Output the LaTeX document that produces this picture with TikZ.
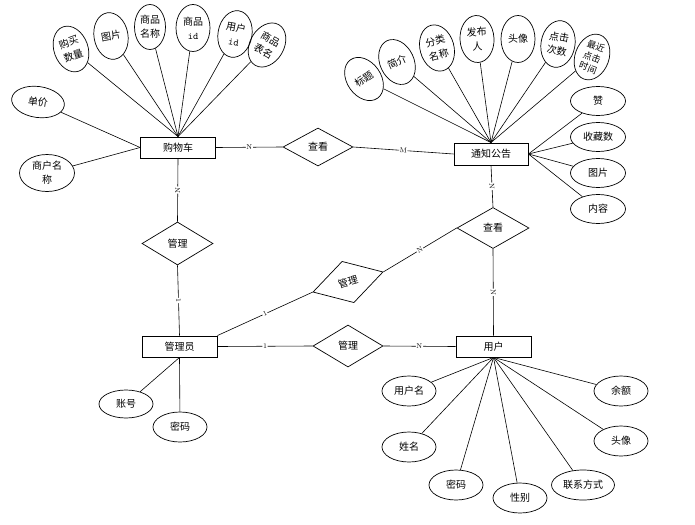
\documentclass[tikz,border=0pt]{standalone}
\usepackage{fontspec}
\newfontfamily\cjk{Noto Sans CJK SC}
\usetikzlibrary{shapes.geometric}
\begin{document}
\begin{tikzpicture}[x=1pt,y=-1pt,
  every node/.style={font=\cjk\fontsize{10}{12}\selectfont},
  ent/.style={draw, line width=0.9pt, minimum width=75pt, minimum height=21pt, inner sep=0pt},
  rel/.style={draw, diamond, line width=0.7pt, inner sep=0pt, aspect=1.7},
  attr/.style={draw, ellipse, line width=0.7pt, inner sep=0pt, minimum width=54pt, minimum height=30pt, align=center},
  tattr/.style={attr, minimum width=34pt, minimum height=47pt, font=\cjk\fontsize{10}{14}\selectfont},
  lab/.style={font=\fontsize{7}{8}\selectfont, fill=white, inner sep=0.6pt, sloped},
  conn/.style={line width=0.6pt}
]
\useasboundingbox (0,0) rectangle (695,524);

% entities
\node[ent] (cart) at (178,147.5) {购物车};
\node[ent, minimum width=74pt, minimum height=22pt] (notice) at (491,154) {通知公告};
\node[ent] (admin) at (179.5,346.5) {管理员};
\node[ent] (user) at (493.5,346.5) {用户};

% relations
\node[rel, minimum width=70pt, minimum height=38pt] (ck1) at (318,147) {查看};
\node[rel, minimum width=71pt, minimum height=43pt] (m1) at (177.5,243.5) {管理};
\node[rel, minimum width=73pt, minimum height=43pt, rotate=16] (m2) at (348,282) {管理};
\node[rel, minimum width=72pt, minimum height=41pt] (ck2) at (493,228) {查看};
\node[rel, minimum width=70pt, minimum height=42pt] (m3) at (348,346) {管理};

% relation connectors
\draw[conn] (cart.east) -- node[lab]{N} (ck1.west);
\draw[conn] (ck1.east) -- node[lab]{M} (notice.west);
\draw[conn] (cart.south) -- node[lab]{N} (m1.north);
\draw[conn] (m1.south) -- node[lab]{1} (admin.north);
\draw[conn] (admin.north east) -- node[lab]{1} (m2.west);
\draw[conn] (m2.east) -- node[lab]{N} (ck2.west);
\draw[conn] (ck2.north) -- node[lab]{N} (notice.south);
\draw[conn] (ck2.south) -- node[lab]{N} (user.north);
\draw[conn] (admin.east) -- node[lab]{1} (m3.west);
\draw[conn] (m3.east) -- node[lab]{N} (user.west);

% cart attributes
\node[tattr, rotate=20] (a1) at (71,49) {购买\\数量};
\node[tattr, rotate=10] (a2) at (111,36) {图片};
\node[tattr, minimum width=31pt, minimum height=45pt] (a3) at (150,27) {商品\\名称};
\node[tattr] (a4) at (193,28) {商品\\{\ttfamily id}};
\node[tattr, rotate=-10] (a5) at (235,34) {用户\\{\ttfamily id}};
\node[tattr, rotate=-30] (a6) at (267,45) {商品\\表名};
\node[attr, rotate=-8, minimum width=53pt, minimum height=31pt] (a7) at (38,102) {单价};
\node[attr, minimum width=55pt, minimum height=37pt, font=\cjk\fontsize{10}{14}\selectfont] (a8) at (47,173) {商户名\\称};
\foreach \n in {a1,a2,a3,a4,a5,a6} \draw[conn] (cart.north) -- (\n);
\draw[conn] (cart.west) -- (a7);
\draw[conn] (cart.west) -- (a8);

% notice attributes
\node[tattr, rotate=35] (b1) at (364,79) {标题};
\node[tattr, rotate=25] (b2) at (397,62) {简介};
\node[tattr, rotate=15] (b3) at (437,48) {分类\\名称};
\node[tattr, rotate=3] (b4) at (477,39) {发布\\人};
\node[tattr] (b5) at (518,39) {头像};
\node[tattr, rotate=-10] (b6) at (558,44) {点击\\次数};
\node[tattr, rotate=-20, font=\cjk\fontsize{9}{11.5}\selectfont] (b7) at (592,57) {最近\\点击\\时间};
\foreach \n in {b1,b2,b3,b4,b5,b6,b7} \draw[conn] (notice.north) -- (\n);
\node[attr, minimum width=55pt, minimum height=29pt] (c1) at (598,101) {赞};
\node[attr, minimum width=55pt, minimum height=29pt] (c2) at (598,137) {收藏数};
\node[attr, minimum width=55pt, minimum height=29pt] (c3) at (598,173) {图片};
\node[attr, minimum width=55pt, minimum height=29pt] (c4) at (598,209) {内容};
\foreach \n in {c1,c2,c3,c4} \draw[conn] (notice.east) -- (\n);

% admin attributes
\node[attr, minimum height=28pt] (d1) at (126,404) {账号};
\node[attr] (d2) at (180,427) {密码};
\draw[conn] (admin.south) -- (d1);
\draw[conn] (admin.south) -- (d2);

% user attributes
\node[attr] (e1) at (409,391) {用户名};
\node[attr] (e2) at (409,447) {姓名};
\node[attr] (e3) at (456,485) {密码};
\node[attr] (e4) at (520,498) {性别};
\node[attr, minimum width=63pt] (e5) at (583,485) {联系方式};
\node[attr] (e6) at (621,391) {余额};
\node[attr] (e7) at (621,441) {头像};
\foreach \n in {e1,e2,e3,e4,e5,e6,e7} \draw[conn] (user.south) -- (\n);
\end{tikzpicture}
\end{document}
